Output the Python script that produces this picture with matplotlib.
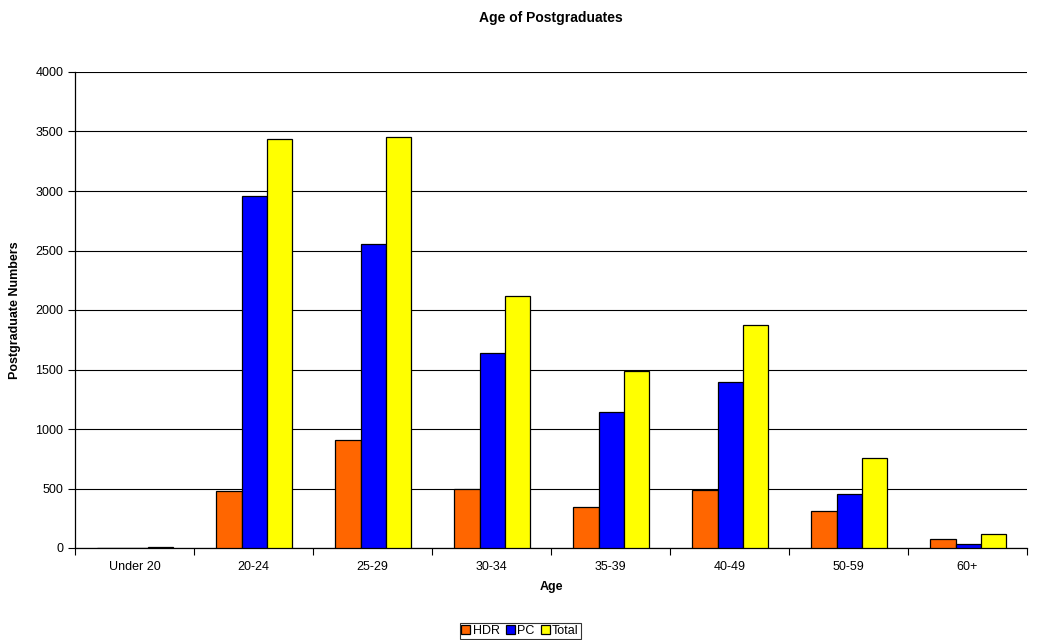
import numpy as np
import matplotlib
matplotlib.use("Agg")
import matplotlib.pyplot as plt

plt.rcParams['font.family'] = ['Liberation Sans', 'DejaVu Sans']

ages = ["Under 20", "20-24", "25-29", "30-34", "35-39", "40-49", "50-59", "60+"]
hdr = [2, 483, 905, 492, 345, 488, 307, 79]
pc = [3, 2958, 2555, 1637, 1143, 1393, 450, 37]
total = [5, 3439, 3455, 2118, 1488, 1871, 755, 121]

fig = plt.figure(figsize=(10.4, 6.4), dpi=100)
ax = fig.add_axes([75 / 1040, 92 / 640, 952 / 1040, 476 / 640])

x = np.arange(len(ages)) + 0.008
w = 0.213
ax.bar(x - w, hdr, w, color="#FF6600", edgecolor="black", linewidth=0.9, label="HDR", zorder=3)
ax.bar(x, pc, w, color="#0000FF", edgecolor="black", linewidth=0.9, label="PC", zorder=3)
ax.bar(x + w, total, w, color="#FFFF00", edgecolor="black", linewidth=0.9, label="Total", zorder=3)

ax.set_xlim(-0.5, len(ages) - 0.5)
ax.set_ylim(0, 4000)
ax.set_yticks(range(0, 4001, 500))
ax.yaxis.grid(True, color="black", linewidth=0.8, zorder=0)
ax.tick_params(axis="y", labelsize=9, length=5, width=0.8, direction="out")

ax.set_xticks(np.arange(len(ages)))
ax.set_xticklabels(ages)
ax.set_xticks(np.arange(-0.5, len(ages)), minor=True)
ax.tick_params(axis="x", which="major", length=0, labelsize=9, pad=9)
ax.tick_params(axis="x", which="minor", length=5, width=0.8, direction="out")

ax.spines["top"].set_visible(False)
ax.spines["right"].set_visible(False)
ax.spines["left"].set_linewidth(0.9)
ax.spines["bottom"].set_linewidth(0.9)

ax.set_xlabel("Age", fontsize=9, fontweight="bold", labelpad=6)
ax.set_ylabel("Postgraduate Numbers", fontsize=9, fontweight="bold", labelpad=10)
fig.text(0.53, 1 - 18 / 640, "Age of Postgraduates", ha="center", va="center",
         fontsize=10, fontweight="bold")

leg = fig.legend(loc="lower center", bbox_to_anchor=(0.5, 0.0), ncol=3,
                 fontsize=9, frameon=True, fancybox=False, edgecolor="black",
                 handlelength=0.7, handleheight=0.7, handletextpad=0.2,
                 columnspacing=0.5, borderpad=0.15, borderaxespad=0.1)
leg.get_frame().set_linewidth(0.8)

fig.savefig("out.png", dpi=100)
